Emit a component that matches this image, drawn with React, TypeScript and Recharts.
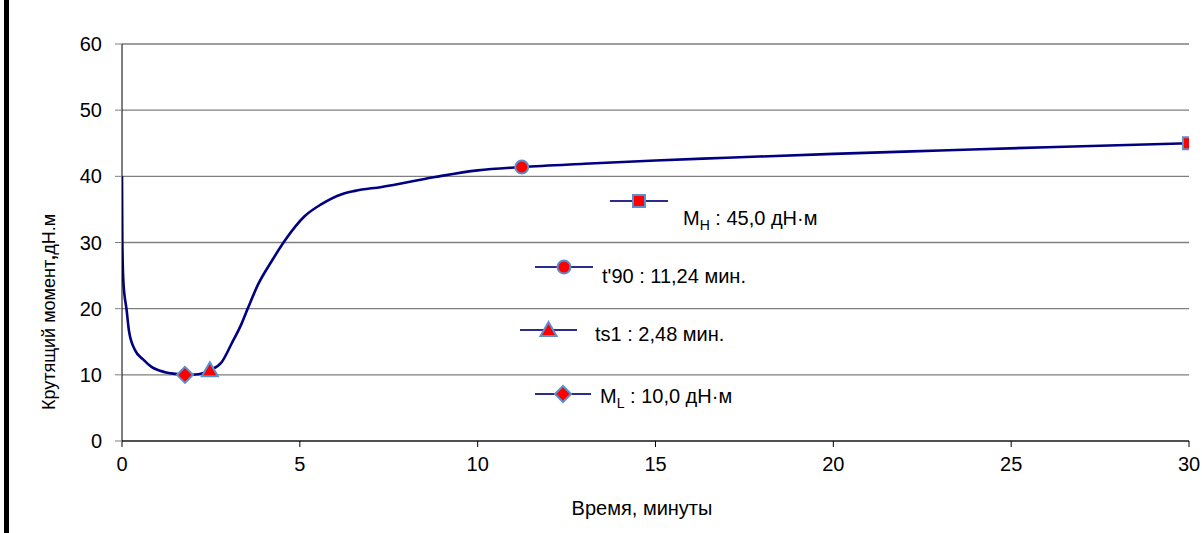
import React from "react";
import {
  ComposedChart,
  Line,
  Scatter,
  XAxis,
  YAxis,
  CartesianGrid,
  Label,
} from "recharts";

const timeMin = [0, 0.01, 0.04, 0.13, 0.2, 0.37, 0.6, 0.83, 1.21, 1.5, 1.77, 2.15, 2.47, 2.8, 3.08, 3.36, 3.55, 3.83, 4.21, 4.58, 5.14, 5.61, 6.18, 6.55, 7.3, 8.8, 10, 11.24, 13, 15, 17, 20, 23, 26, 28, 30];
const torque = [40, 30, 24, 19.8, 16.5, 13.7, 12.3, 11.2, 10.4, 10.15, 10, 10.1, 10.7, 11.9, 14.7, 17.7, 20.2, 23.7, 27.2, 30.3, 34, 35.8, 37.3, 37.8, 38.4, 39.9, 40.9, 41.4, 41.9, 42.4, 42.8, 43.4, 43.9, 44.4, 44.7, 45];

const xTicks = [0, 5, 10, 15, 20, 25, 30];
const yTicks = [0, 10, 20, 30, 40, 50, 60];

const mL = [{ x: 1.77, y: 10 }];
const ts1 = [{ x: 2.47, y: 10.7 }];
const t90 = [{ x: 11.24, y: 41.4 }];
const mH = [{ x: 30, y: 45 }];

const curve = timeMin.map((t, i) => ({ x: t, y: torque[i] }));

const FONT = "'Liberation Sans', Arial, sans-serif";
const NAVY = "#000080";
const RED = "#FF0000";
const EDGE = "#5B8FD0";

type Kind = "square" | "circle" | "triangle" | "diamond";

function markerPath(kind: Kind, cx: number, cy: number) {
  if (kind === "square") return <rect x={cx - 6} y={cy - 6} width={12} height={12} />;
  if (kind === "circle") return <circle cx={cx} cy={cy} r={6.5} />;
  if (kind === "triangle")
    return <polygon points={`${cx},${cy - 8} ${cx + 8},${cy + 6} ${cx - 8},${cy + 6}`} />;
  return <polygon points={`${cx},${cy - 8} ${cx + 8},${cy} ${cx},${cy + 8} ${cx - 8},${cy}`} />;
}

const makeShape = (kind: Kind) => (props: any) => (
  <g fill={RED} stroke={EDGE} strokeWidth={2}>
    {markerPath(kind, props.cx, props.cy)}
  </g>
);

function LegendItem({ kind, left, top, lineW, textLeft, textTop, children }: any) {
  return (
    <>
      <svg
        style={{ position: "absolute", left, top: top - 10, overflow: "visible" }}
        width={lineW}
        height={20}
      >
        <line x1={0} y1={10} x2={lineW} y2={10} stroke="#2c2c8c" strokeWidth={2} />
        <g fill={RED} stroke={EDGE} strokeWidth={2}>
          {markerPath(kind, lineW / 2, 10)}
        </g>
      </svg>
      <div
        style={{
          position: "absolute",
          left: textLeft,
          top: textTop,
          fontFamily: FONT,
          fontSize: 20,
          color: "#000",
          whiteSpace: "nowrap",
          lineHeight: "24px",
        }}
      >
        {children}
      </div>
    </>
  );
}

const sub = { fontSize: 14, verticalAlign: "-5px" } as const;

export default function App() {
  return (
    <div style={{ position: "relative", width: 1202, height: 533, background: "#fff" }}>
      <style>{"body{margin:0}"}</style>
      <div
        style={{ position: "absolute", left: 4, top: 0, width: 5, height: 533, background: "#000" }}
      />
      <ComposedChart
        width={1202}
        height={533}
        margin={{ top: 44, right: 13, left: 62, bottom: 52 }}
      >
        <CartesianGrid horizontal vertical={false} stroke="#7f7f7f" strokeWidth={1.3} />
        <XAxis
          type="number"
          dataKey="x"
          domain={[0, 30]}
          ticks={xTicks}
          allowDataOverflow
          height={40}
          stroke="#000"
          tickSize={6}
          tick={{ fontSize: 20, fill: "#000", fontFamily: FONT }}
          tickMargin={10}
        >
          <Label
            content={() => (
              <text x={642} y={515} textAnchor="middle" fontSize={20} fontFamily={FONT} fill="#000">
                Время, минуты
              </text>
            )}
          />
        </XAxis>
        <YAxis
          type="number"
          dataKey="y"
          domain={[0, 60]}
          ticks={yTicks}
          width={60}
          stroke="#000"
          tickLine={{ stroke: "#7f7f7f" }}
          tickSize={7}
          tick={{ fontSize: 20, fill: "#000", fontFamily: FONT }}
          tickMargin={13}
        >
          <Label
            content={() => (
              <text
                x={55}
                y={312}
                textAnchor="middle"
                fontSize={18}
                fontFamily={FONT}
                fill="#000"
                transform="rotate(-90 55 312)"
              >
                Крутящий момент<tspan fontWeight="bold">,</tspan>дН.м
              </text>
            )}
          />
        </YAxis>
        <Line
          data={curve}
          dataKey="y"
          type="monotone"
          stroke={NAVY}
          strokeWidth={2.6}
          dot={false}
          activeDot={false}
          isAnimationActive={false}
        />
        <Scatter data={mL} dataKey="y" shape={makeShape("diamond")} isAnimationActive={false} />
        <Scatter data={ts1} dataKey="y" shape={makeShape("triangle")} isAnimationActive={false} />
        <Scatter data={t90} dataKey="y" shape={makeShape("circle")} isAnimationActive={false} />
        <Scatter data={mH} dataKey="y" shape={makeShape("square")} isAnimationActive={false} />
      </ComposedChart>

      <LegendItem kind="square" left={610} top={201} lineW={58} textLeft={683} textTop={206}>
        M<span style={sub}>H</span> : 45,0 дН·м
      </LegendItem>
      <LegendItem kind="circle" left={535} top={267} lineW={58} textLeft={602} textTop={264}>
        t'90 : 11,24 мин.
      </LegendItem>
      <LegendItem kind="triangle" left={520} top={330} lineW={57} textLeft={595} textTop={322}>
        ts1 : 2,48 мин.
      </LegendItem>
      <LegendItem kind="diamond" left={535} top={394} lineW={56} textLeft={600} textTop={384}>
        M<span style={sub}>L</span> : 10,0 дН·м
      </LegendItem>
    </div>
  );
}
